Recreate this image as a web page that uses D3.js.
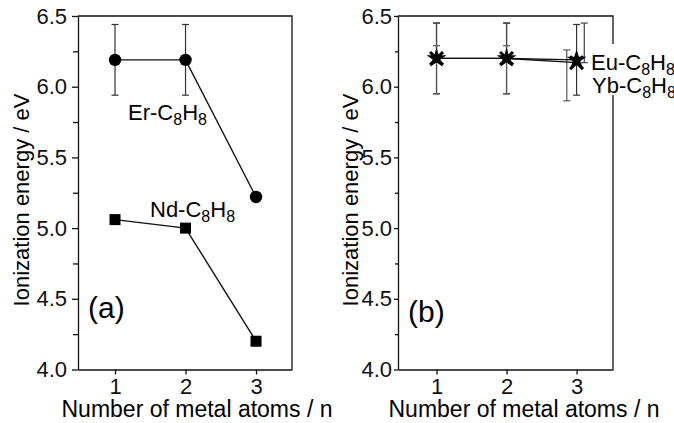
<!DOCTYPE html>
<html>
<head>
<meta charset="utf-8">
<script src="https://cdn.jsdelivr.net/npm/d3@7"></script>
<style>
  body { margin: 0; background: #fff; }
  svg { display: block; font-family: "Liberation Sans", Arial, sans-serif; }
  .axis path, .axis line { stroke: #111; stroke-width: 1.3; }
  .axis text { font-size: 22px; fill: #111; }
</style>
</head>
<body>
<svg id="chart" width="674" height="423"></svg>
<script>
// number of metal atoms
var nAtoms = [1, 2, 3];
var xTicks = [1, 2, 3];
var yTicks = [4.0, 4.5, 5.0, 5.5, 6.0, 6.5];
var yMinorTicks = [4.25, 4.75, 5.25, 5.75, 6.25];

// panel (a)
var erIE = [6.19, 6.19, 5.22];
var erErr = [0.25, 0.25, null];
var ndIE = [5.06, 5.0, 4.2];

// panel (b)
var euIE = [6.2, 6.2, 6.19];
var euErr = [0.25, 0.25, 0.25];
var ybIE = [6.2, 6.2, 6.17];
var ybErrHi = [6.45, 6.45, 6.45];
var ybErrLo = [5.95, 5.95, 5.90];
// small horizontal shift of the Yb bars at n = 3 (upper / lower part)
var ybErrShiftHi = [0, 0, 0.11];
var ybErrShiftLo = [0, 0, -0.14];

var svg = d3.select("#chart");

function makePanel(opt) {
  var x = d3.scaleLinear().domain(opt.xDomain).range([opt.left, opt.right]);
  var y = d3.scaleLinear().domain([4.0, 6.5]).range([opt.bottom, opt.top]);
  var g = svg.append("g");

  // frame (top + right)
  g.append("path")
    .attr("d", "M" + opt.left + "," + opt.top + "H" + opt.right + "V" + opt.bottom)
    .attr("fill", "none").attr("stroke", "#111").attr("stroke-width", 1.3);

  // y axis, minor then major ticks
  g.append("g").attr("class", "axis")
    .attr("transform", "translate(" + opt.left + ",0)")
    .call(d3.axisLeft(y).tickValues(yMinorTicks).tickSize(opt.yTick - 1).tickFormat(""))
    .call(function (s) { s.select(".domain").remove(); });
  g.append("g").attr("class", "axis")
    .attr("transform", "translate(" + opt.left + ",0)")
    .call(d3.axisLeft(y).tickValues(yTicks).tickSize(opt.yTick).tickSizeOuter(0)
      .tickPadding(opt.yPad).tickFormat(d3.format(".1f")));

  // x axis
  g.append("g").attr("class", "axis")
    .attr("transform", "translate(0," + opt.bottom + ")")
    .call(d3.axisBottom(x).tickValues(xTicks).tickSize(5).tickSizeOuter(0)
      .tickPadding(4).tickFormat(d3.format("d")));

  // axis titles
  g.append("text")
    .attr("x", opt.titleX).attr("y", 417)
    .attr("text-anchor", "middle")
    .style("font-size", "23px")
    .text("Number of metal atoms / n");
  g.append("text")
    .attr("transform", "translate(" + opt.yTitleX + "," + 200 + ") rotate(-90)")
    .attr("text-anchor", "middle")
    .style("font-size", "22px")
    .text("Ionization energy / eV");

  // panel letter
  g.append("text")
    .attr("x", opt.left + 10).attr("y", opt.letterY)
    .style("font-size", "30px")
    .text(opt.letter);

  return { g: g, x: x, y: y };
}

function errorBars(p, xs, lo, hi, color) {
  xs.forEach(function (xv, i) {
    if (lo[i] == null) return;
    var px = p.x(xv);
    p.g.append("line").attr("x1", px).attr("x2", px)
      .attr("y1", p.y(lo[i])).attr("y2", p.y(hi[i]))
      .attr("stroke", color).attr("stroke-width", 1.2);
    [lo[i], hi[i]].forEach(function (v) {
      p.g.append("line").attr("x1", px - 3.5).attr("x2", px + 3.5)
        .attr("y1", p.y(v)).attr("y2", p.y(v))
        .attr("stroke", color).attr("stroke-width", 1.2);
    });
  });
}

function seriesLine(p, values) {
  var line = d3.line()
    .x(function (d, i) { return p.x(nAtoms[i]); })
    .y(function (d) { return p.y(d); });
  p.g.append("path").datum(values).attr("d", line)
    .attr("fill", "none").attr("stroke", "#111").attr("stroke-width", 1.4);
}

function subLabel(g, x, y, el) {
  var t = g.append("text").attr("x", x).attr("y", y).style("font-size", "22px");
  t.append("tspan").text(el + "-C");
  t.append("tspan").attr("dy", 5).style("font-size", "16px").text("8");
  t.append("tspan").attr("dy", -5).text("H");
  t.append("tspan").attr("dy", 5).style("font-size", "16px").text("8");
  return t;
}

// ---------- panel (a)
var pa = makePanel({
  left: 78, right: 292, top: 16, bottom: 369.5,
  xDomain: [0.475, 3.51], yTick: 6, yPad: 5,
  titleX: 197, yTitleX: 29, letter: "(a)", letterY: 318
});

errorBars(pa, nAtoms,
  erIE.map(function (d, i) { return erErr[i] == null ? null : d - erErr[i]; }),
  erIE.map(function (d, i) { return erErr[i] == null ? null : d + erErr[i]; }),
  "#333");
seriesLine(pa, erIE);
seriesLine(pa, ndIE);

pa.g.selectAll(".er").data(erIE).enter().append("circle")
  .attr("cx", function (d, i) { return pa.x(nAtoms[i]); })
  .attr("cy", function (d) { return pa.y(d); })
  .attr("r", 6.2).attr("fill", "#000");
pa.g.selectAll(".nd").data(ndIE).enter().append("rect")
  .attr("x", function (d, i) { return pa.x(nAtoms[i]) - 5.5; })
  .attr("y", function (d) { return pa.y(d) - 5.5; })
  .attr("width", 11).attr("height", 11).attr("fill", "#000");

subLabel(pa.g, 128, 120, "Er");
subLabel(pa.g, 150, 217, "Nd");

// ---------- panel (b)
var pb = makePanel({
  left: 398, right: 613, top: 16, bottom: 369.5,
  xDomain: [0.45, 3.52], yTick: 4, yPad: 2,
  titleX: 524, yTitleX: 358, letter: "(b)", letterY: 322
});

errorBars(pb, nAtoms,
  euIE.map(function (d, i) { return d - euErr[i]; }),
  euIE.map(function (d, i) { return d + euErr[i]; }),
  "#333");
// Yb bars: upper and lower half drawn separately (shifted at n = 3)
nAtoms.forEach(function (n, i) {
  errorBars(pb, [n + ybErrShiftHi[i]], [ybIE[i]], [ybErrHi[i]], "#444");
  errorBars(pb, [n + ybErrShiftLo[i]], [ybErrLo[i]], [ybIE[i] + 0.09], "#555");
});
seriesLine(pb, euIE);
seriesLine(pb, ybIE);

pb.g.selectAll(".eu").data(euIE).enter().append("path")
  .attr("transform", function (d, i) { return "translate(" + pb.x(nAtoms[i]) + "," + pb.y(d) + ")"; })
  .attr("d", d3.symbol().type(d3.symbolStar).size(120))
  .attr("fill", "#000");
pb.g.selectAll(".yb").data(ybIE).enter().append("path")
  .attr("transform", function (d, i) { return "translate(" + pb.x(nAtoms[i]) + "," + pb.y(d) + ")"; })
  .attr("d", d3.symbol().type(d3.symbolTimes).size(110))
  .attr("fill", "none").attr("stroke", "#000").attr("stroke-width", 3);

// labels sit over the right frame line
pb.g.append("rect").attr("x", 590).attr("y", 44).attr("width", 84).attr("height", 51).attr("fill", "#fff");
subLabel(pb.g, 591, 70, "Eu");
subLabel(pb.g, 592, 93, "Yb");
</script>
</body>
</html>
